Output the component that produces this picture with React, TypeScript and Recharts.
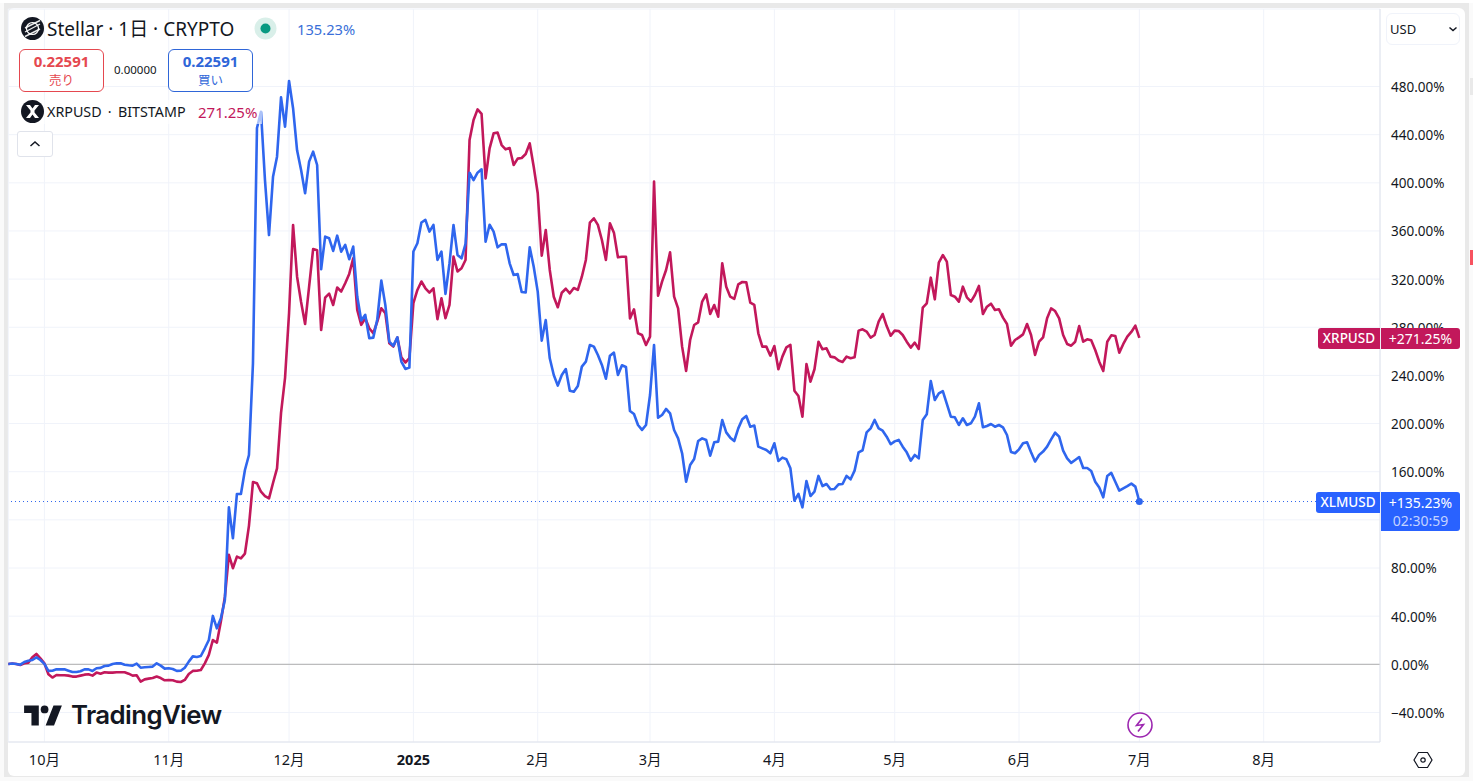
import React from "react"
import { LineChart, Line, XAxis, YAxis, CartesianGrid, ReferenceLine, ReferenceDot } from "recharts"

const FONT = '"Noto Sans", "Noto Sans CJK JP", sans-serif'
const BLUE = "#2962ff"
const LINE_BLUE = "#2f66ee"
const MAGENTA = "#c2185b"

// day number 0 = 1 Oct 2024, first point is 22 Sep
const firstDay = -9

const xlmPct = [
  0.3, 0.6, 0.3, -0.3, 1.9, 3, 3.6, 5.8, 3.6, 0.3, -5.5, -5.3, -4.2, -4.2, -4.2, -5.3, -6.4, -6.4, -5.8, -4.2, -4.2, -5.5, -3.3, -3, -1.4, -1.1, 0.3, 0.8, 0.8, -0.3, -0.8, -1.1, 0.6,
  -2.8, -2.5, -2.2, -1.9, 0.8, -1.1, -3.6, -3.3, -3.9, -5.5, -5.3, -2.8, 2.2, 6.6, 6.1, 6.9, 13.3, 20.2, 40.2, 29.9, 38.2, 53.5, 130.5, 104.7, 141.5,
  141.5, 161.4, 173.9, 250, 445.5, 459, 402, 356.6, 405, 421.7, 471, 446.6, 484.6, 462, 427, 410.6, 391.3, 417.6, 425.9, 414.8, 328.2, 355.3, 353.9, 343.4, 356.1, 342.8,
  348.4, 336.5, 347, 305.5, 285.6, 290.3, 270.9, 271.4, 286.7, 318.8, 298.6, 268.1, 264.5, 271.7, 251.5, 245.4, 246.5, 342.9, 349.8, 367, 369.2, 359.5, 365, 336, 342.9, 307.7, 333.2, 365, 340.1,
  337.3, 349.2, 408.4, 402.3, 408.4, 411.2, 351.1, 365.2, 359.4, 346.4, 348.9, 348.9, 333.1, 323.4, 324.2, 309.3, 309, 346.4, 330.3, 309.6, 268.9, 286, 254.2, 240.3, 231.5, 240.3, 245.3, 227.3, 226.5, 231.2, 247.3, 251.4, 265.3, 263.9, 257, 248.7, 237.3, 256.4, 258.9, 240.3, 248.4, 247, 210.4, 207.9, 198.8, 194.7, 198.8, 223.7, 265.3, 204.9, 207.1, 212.1, 208.5, 194.7, 187.7, 175.3, 151.7, 165.6, 170.6, 185.5, 187.7, 186.3, 173.3, 184.4, 185, 203, 192.7, 188.3, 185.5, 196, 203.5, 206.3, 197.4, 198.3, 180.8,
  179.4, 178, 175.3, 183.6, 168.9, 171.7, 170.3, 162.8, 136, 141.5, 130.4, 152.3, 139.8, 143.4, 156.5, 148.1, 149.8, 145.4, 145.7, 149.5, 149.8, 156.5, 153.7, 160.9, 176.1, 177.8, 192.7, 196, 203, 196, 194.1, 189.1, 182.8, 185.2, 186.4, 180.8, 176.1, 169.2, 173.9, 171.1, 203, 207.7, 235.4, 219.6, 225.1, 227, 216.3, 205.7, 205.2, 198.8, 204.4, 198.8, 200.2, 205.7, 216.8, 196.9, 198, 199.6, 197.4, 198.8, 196.9, 190.5, 176.4, 175.3, 178.6, 183.6, 184.4, 176.1, 168.4, 173.9, 176.7, 180.8, 186.9, 192.4, 189.1, 177.5, 171.1, 167.3, 169.7, 172.2, 163.1, 163.1, 160.6, 151.7, 146.8, 138.7, 156.5, 159, 151.7, 144.3, 146.2, 148.1, 150.1, 147.6, 135.23,
]

const xrpPct = [
  0.3, 0.6, 0.3, -0.6, 0.8, 1.4, 5.8, 8.6, 5, 0.8, -8.3, -11, -8.9, -9.1, -9.1, -9.4, -10.2, -10.2, -9.4, -8.6, -8.3, -9.4, -6.9, -7.8, -6.6, -6.9, -6.9, -6.6, -6.6, -6.6, -7.8, -9.4, -9.1,
  -14.4, -12.5, -11.9, -11.4, -10.2, -11.4, -13.3, -13, -13.3, -14.4, -14.7, -13, -8, -5.5, -5.3, -4.7, 0.8, 7.8, 20.2, 18, 35.5, 56, 90.9, 79.8, 89.5,
  88, 92, 115, 151.4, 150.4, 143.4, 139.8, 137.9, 150.6, 162.8, 208.8, 238, 291.7, 365, 322, 301, 282.7, 313.7, 345, 344, 277.7, 304.6, 308, 298.5, 313, 309.7,
  316.6, 324.3, 337.3, 294.4, 282, 287.5, 279.2, 275, 284.7, 295.8, 291.7, 266.7, 264, 271.5, 255.1, 250.7, 254.3, 300, 311, 318, 312.4, 308.8, 312.4, 286.7, 304.1, 287.5, 298.6, 338.7, 326.3,
  329, 335.9, 435.6, 452.2, 461, 457.2, 403.7, 428.6, 441.1, 441.7, 431.4, 427.8, 428.9, 414.8, 420.1, 420.6, 423.9, 432.8, 413.4, 391.3, 339.5, 360.8, 327.6, 305.4, 296.6, 308.7, 312, 308.2, 312.6, 311, 322, 335.9, 366.9, 370.5, 365, 352.5, 335.9, 366.3, 358.6, 338.1, 338.6, 338.6, 287.4, 294.9, 275, 273.6, 265.3, 272.2, 401, 306.3, 317.9, 327.6, 342.2, 305.4, 295.7, 263.9, 243.7, 269.4, 281.9, 284.1, 301.3, 307.4, 291, 298.5, 288.8, 333.1, 313.7, 305.4, 303.5, 315.7, 317.6, 317.3, 300.4, 298.5, 275,
  263.9, 263.9, 256.4, 264.4, 245.1, 255.6, 263.3, 265.3, 227.3, 222.9, 205.7, 249.5, 234.8, 245.1, 268, 261.7, 262.5, 255.6, 255, 252.3, 251.2, 255.6, 254.2, 255, 277.2, 278.3, 276.4, 271.4, 273.6, 284.7, 291, 281, 273, 277.2, 276.9, 273.6, 268, 263.1, 267.2, 262, 296.3, 299.9, 321.2, 303.2, 333.7, 340, 334.5, 306.8, 305.4, 301.3, 313.7, 304.9, 301.3, 306.8, 314.3, 291, 297.1, 299.6, 294.3, 294.9, 288, 282.7, 264.7, 269.4, 271.6, 274.1, 282.7, 273.6, 257, 268.1, 271.6, 287.4, 295.7, 293.5, 287.4, 273.6, 266.1, 264.7, 268, 281, 268, 270, 269.2, 261.1, 251.4, 243.7, 268, 273.3, 272.8, 258.9, 266.1, 272.2, 276.1, 281.3, 271.25,
]

const monthDays = [0, 31, 61, 92, 123, 151, 182, 212, 243, 273, 304]
const monthLabels = ["10月", "11月", "12月", "2025", "2月", "3月", "4月", "5月", "6月", "7月", "8月"]
const pctTicks = [-40, 0, 40, 80, 120, 160, 200, 240, 280, 320, 360, 400, 440, 480]
// the 120% label sits under the XLMUSD price tag in the reference, only its grid line shows
const hiddenPctLabel = 120
const lastXlm = 135.23

const rows = xlmPct.map((xlm, i) => ({ day: firstDay + i, xlm, xrp: xrpPct[i] }))

function MonthTick({ x, y, payload }: any) {
  const label = monthLabels[monthDays.indexOf(payload.value)]
  return (
    <text x={x} y={y} dy={15} textAnchor="middle" fontSize={14.5} fontFamily={FONT} fill="#131722" fontWeight={label === "2025" ? 700 : 400}>
      {label}
    </text>
  )
}

const abs = (left: number, top: number, extra: React.CSSProperties = {}): React.CSSProperties => ({
  position: "absolute",
  left,
  top,
  whiteSpace: "nowrap",
  ...extra,
})

function Coin({ left, top, children }: { left: number; top: number; children: React.ReactNode }) {
  return (
    <svg style={abs(left, top)} width={23} height={23} viewBox="0 0 23 23">
      <circle cx={11.5} cy={11.5} r={11.5} fill="#131722" />
      {children}
    </svg>
  )
}

function PriceBox({ left, color, price, label }: { left: number; color: string; price: string; label: string }) {
  return (
    <div style={abs(left, 49, { width: 83, height: 41, border: `1px solid ${color}`, borderRadius: 6, color, textAlign: "center", background: "#fff" })}>
      <div style={{ fontSize: 15, fontWeight: 700, lineHeight: "15px", marginTop: 4 }}>{price}</div>
      <div style={{ fontSize: 12.5, lineHeight: "15px", marginTop: 4 }}>{label}</div>
    </div>
  )
}

function Overlay() {
  return (
    <div style={{ fontFamily: FONT, color: "#131722" }}>
      <Coin left={21} top={17}>
        <path d="M4 15 L19 7 M4 11 L19 3.5 M4 19.5 L19 12" stroke="#fff" strokeWidth={1.4} opacity={0.9} />
        <circle cx={11.5} cy={11.5} r={6} fill="none" stroke="#fff" strokeWidth={1.2} />
      </Coin>
      <div style={abs(47, 17, { fontSize: 19, lineHeight: "24px" })}>Stellar · 1日 · CRYPTO</div>
      <svg style={abs(254, 17)} width={23} height={23}>
        <circle cx={11.5} cy={11.5} r={11} fill="#d9efe9" />
        <circle cx={11.5} cy={11.5} r={5} fill="#089981" />
      </svg>
      <div style={abs(297, 19, { fontSize: 14.7, lineHeight: "20px", color: "#3a6fd8" })}>135.23%</div>

      <PriceBox left={19} color="#e5484f" price="0.22591" label="売り" />
      <div style={abs(114, 62, { fontSize: 11.5, lineHeight: "16px" })}>0.00000</div>
      <PriceBox left={168} color="#2f66d8" price="0.22591" label="買い" />

      <div style={abs(19, 100, { width: 243, height: 24, background: "rgba(255,255,255,0.6)" })} />
      <Coin left={21} top={100}>
        <path d="M5 5 L9 5 L11.5 8.5 L14 5 L18 5 L13.5 10.5 L13.5 12.5 L18 18 L14 18 L11.5 14.5 L9 18 L5 18 L9.5 12.5 L9.5 10.5 Z" fill="#fff" />
      </Coin>
      <div style={abs(47, 102, { fontSize: 14.3, lineHeight: "20px", wordSpacing: 2.5 })}>XRPUSD · BITSTAMP</div>
      <div style={abs(198, 102, { fontSize: 15, lineHeight: "20px", color: MAGENTA })}>271.25%</div>

      <div style={abs(17, 131, { width: 34, height: 24, border: "1px solid #e0e3eb", borderRadius: 3, background: "#fff" })}>
        <svg width={34} height={24}>
          <path d="M12.5 14 L17 10 L21.5 14" fill="none" stroke="#131722" strokeWidth={1.5} />
        </svg>
      </div>

      <div style={abs(1386, 13, { width: 72, height: 30, border: "1px solid #f0f3fa", borderRadius: 6, background: "#fff" })}>
        <span style={{ position: "absolute", left: 3, top: 6, fontSize: 13, lineHeight: "18px" }}>USD</span>
        <svg style={{ position: "absolute", left: 61, top: 10 }} width={10} height={10}>
          <path d="M1.5 3.5 L5 6.5 L8.5 3.5" fill="none" stroke="#131722" strokeWidth={1.5} />
        </svg>
      </div>

      <div style={abs(1318, 328, { width: 62, height: 21, background: MAGENTA, borderRadius: "3px 0 0 3px", color: "#fff", fontSize: 13.5, fontWeight: 500, lineHeight: "21px", textAlign: "center" })}>XRPUSD</div>
      <div style={abs(1381, 328, { width: 79, height: 21, background: MAGENTA, borderRadius: "0 3px 3px 0", color: "#fff", fontSize: 14, lineHeight: "21px", textAlign: "center" })}>+271.25%</div>
      <div style={abs(1316, 492, { width: 64, height: 21, background: BLUE, borderRadius: "3px 0 0 3px", color: "#fff", fontSize: 13.5, fontWeight: 500, lineHeight: "21px", textAlign: "center" })}>XLMUSD</div>
      <div style={abs(1381, 492, { width: 79, height: 39, background: BLUE, borderRadius: "0 3px 3px 0", color: "#fff", fontSize: 14, lineHeight: "18px", textAlign: "center", paddingTop: 2, boxSizing: "border-box" })}>
        <div>+135.23%</div>
        <div style={{ color: "#c4d3ff" }}>02:30:59</div>
      </div>

      <svg style={abs(24, 705)} width={38} height={21} viewBox="0 0 36 20">
        <path d="M14 19.5H7V7.5H0V.5h14zM28.5 19.5h-8L28 .5h8z" fill="#131722" />
        <circle cx={19.5} cy={4.2} r={3.7} fill="#131722" />
      </svg>
      <div style={abs(71, 697, { fontSize: 25.8, lineHeight: "36px", fontFamily: "Inter, sans-serif", fontWeight: 600, letterSpacing: -0.6 })}>TradingView</div>

      <svg style={abs(1126, 711)} width={28} height={28}>
        <circle cx={14} cy={14} r={12} fill="#fff" stroke="#9c27b0" strokeWidth={1.6} />
        <path d="M16 7.5 L10.5 14.5 L17.5 13.5 L12 20.5" fill="none" stroke="#9c27b0" strokeWidth={1.6} />
      </svg>
      <svg style={abs(1413, 750)} width={20} height={20}>
        <path d="M5.5 2.5 H14.5 L19 10 L14.5 17.5 H5.5 L1 10 Z" fill="none" stroke="#131722" strokeWidth={1.2} />
        <circle cx={10} cy={10} r={2.2} fill="none" stroke="#131722" strokeWidth={1.2} />
      </svg>
    </div>
  )
}

export default function App() {
  return (
    <div style={{ position: "absolute", left: 0, top: 0, width: 1473, height: 781, background: "#fafafa", overflow: "hidden" }}>
      <div style={abs(4, 3, { width: 1465, height: 774, background: "#e9e9e9" })} />
      <div style={abs(0, 0, { width: 1473, height: 3, background: "#fff" })} />
      <div style={abs(1470, 250, { width: 3, height: 15, background: "#f7525f" })} />
      <div style={abs(1470, 78, { width: 3, height: 17, background: "#e9e9e9" })} />
      <div style={abs(8, 8, { width: 1457, height: 768, background: "#fff", borderRadius: 6 })} />
      <div style={abs(0, 0)}>
        <LineChart width={1473} height={781} data={rows} margin={{ top: 9, right: 8, bottom: 5, left: 8.3 }}>
          <CartesianGrid stroke="#f0f3fa" />
          <XAxis
            dataKey="day"
            type="number"
            domain={[firstDay, 333]}
            ticks={monthDays}
            interval={0}
            height={34}
            tick={MonthTick}
            tickLine={false}
            axisLine={{ stroke: "#e0e3eb" }}
          />
          <YAxis
            orientation="right"
            type="number"
            domain={[-64.55, 544.4]}
            ticks={pctTicks}
            interval={0}
            width={85}
            tickLine={false}
            tickMargin={5}
            axisLine={{ stroke: "#e0e3eb" }}
            tick={{ fontSize: 13.5, fontFamily: FONT, fill: "#131722", dy: 0.6 }}
            tickFormatter={(v: number) => (v === hiddenPctLabel ? "" : `${v < 0 ? "−" : ""}${Math.abs(v).toFixed(2)}%`)}
          />
          <ReferenceLine y={0} stroke="#aeaeae" />
          <ReferenceLine y={lastXlm} stroke={LINE_BLUE} strokeDasharray="1 3" />
          <Line dataKey="xrp" stroke={MAGENTA} strokeWidth={2.6} dot={false} isAnimationActive={false} strokeLinejoin="round" />
          <Line dataKey="xlm" stroke={LINE_BLUE} strokeWidth={2.6} dot={false} isAnimationActive={false} strokeLinejoin="round" />
          <ReferenceDot x={273} y={lastXlm} r={3.5} fill={LINE_BLUE} stroke="none" />
        </LineChart>
      </div>
      <Overlay />
    </div>
  )
}
